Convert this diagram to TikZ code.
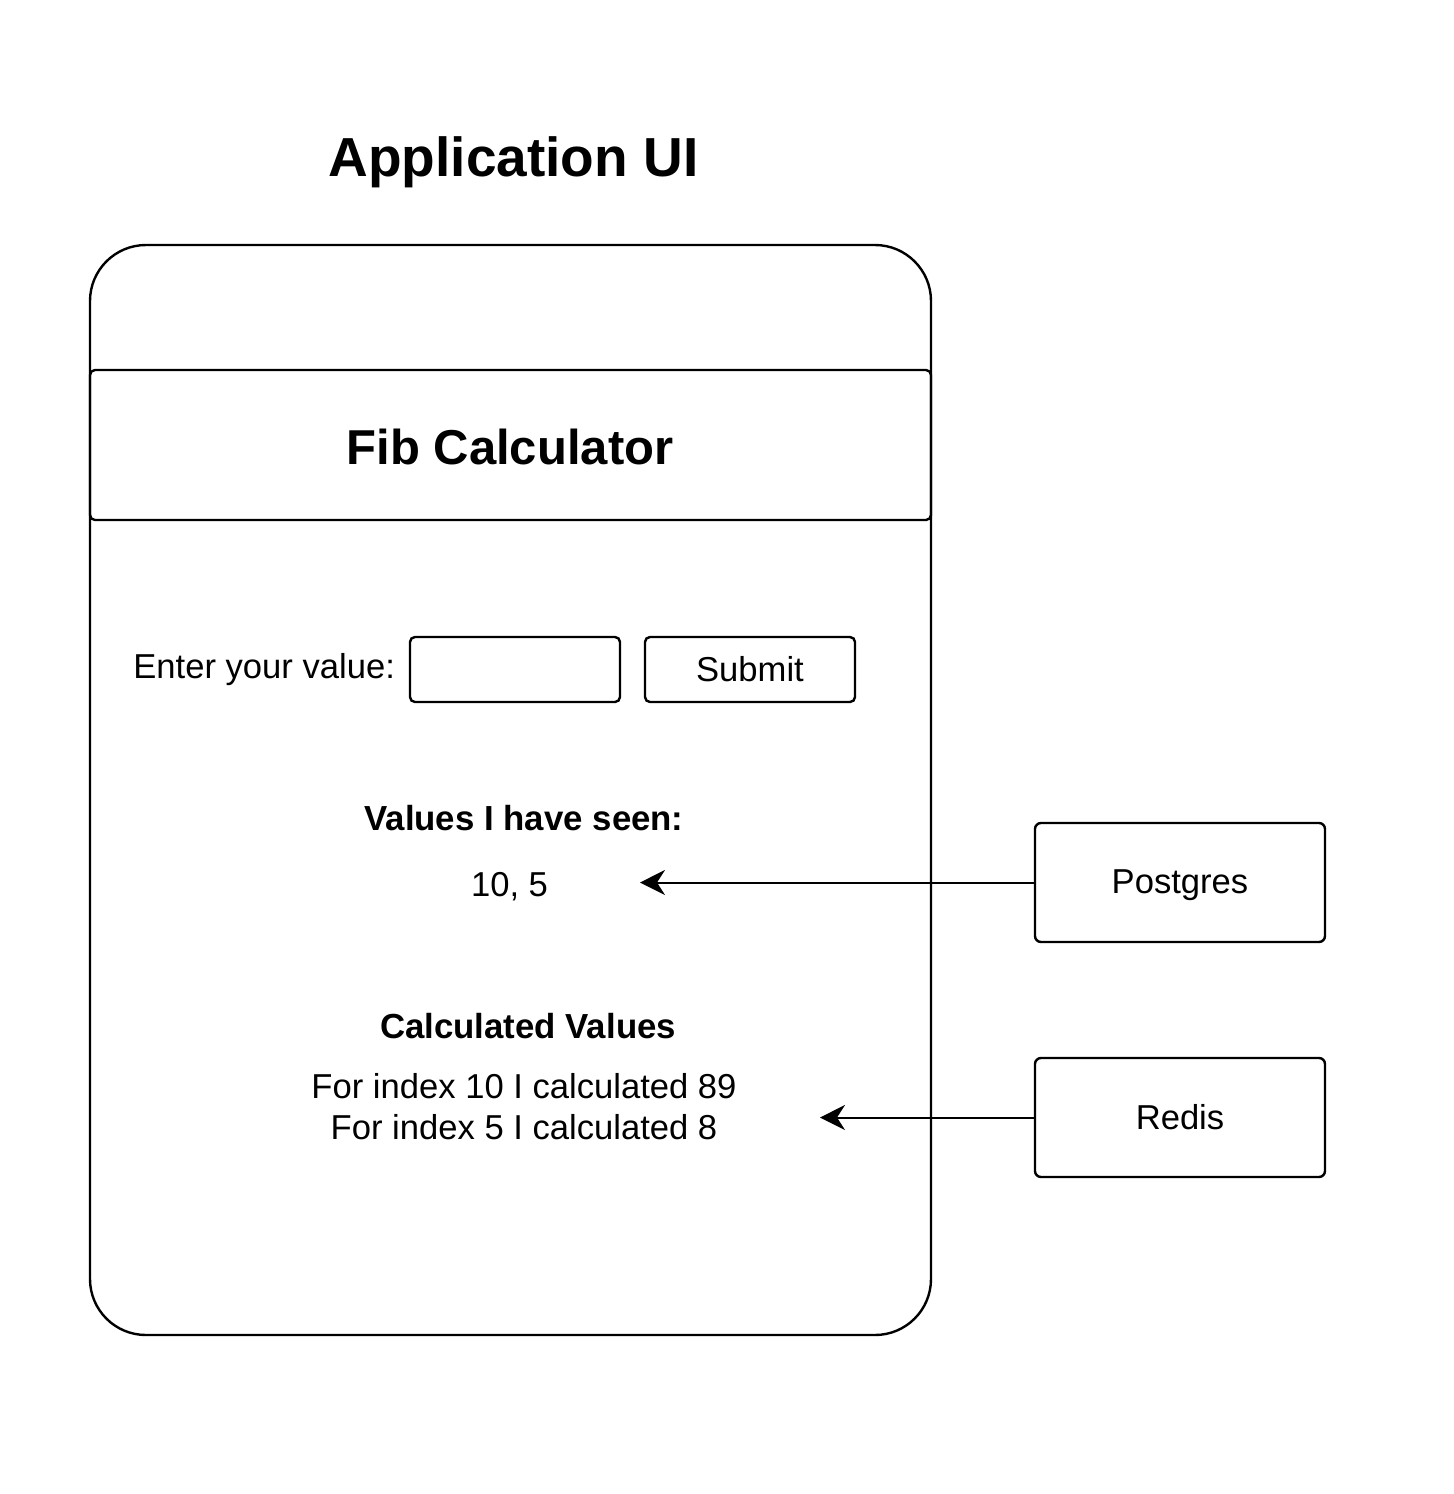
\documentclass[tikz,border=0pt]{standalone}
\usepackage{fontspec}
\setmainfont{Liberation Sans}
\usetikzlibrary{arrows.meta}
\begin{document}
\begin{tikzpicture}[x=0.5pt,y=-0.5pt,
  box/.style={draw, line width=1.2pt, rounded corners=2.5pt, inner sep=0pt},
  lbl/.style={anchor=base, inner sep=0pt, font=\fontsize{17.3pt}{20.5pt}\selectfont},
  blbl/.style={anchor=base, inner sep=0pt, font=\bfseries\fontsize{17.4pt}{20.5pt}\selectfont},
  conn/.style={line width=1pt, -{Stealth[length=12.5pt,width=12.5pt,inset=4pt]}}]
\useasboundingbox (0,0) rectangle (1454,1494);
\node[anchor=base, inner sep=0pt, font=\bfseries\fontsize{27.5pt}{33pt}\selectfont] (title) at (513.5,176) {Application UI};
\node[draw, line width=1.2pt, rounded corners=28pt, minimum width=420.5pt, minimum height=545pt, inner sep=0pt] (outer) at (510.5,790) {};
\node[box, minimum width=420.5pt, minimum height=75pt] (header) at (510.5,445) {};
\node[anchor=base, inner sep=0pt, font=\bfseries\fontsize{24.5pt}{29pt}\selectfont] (fib) at (510,464) {Fib Calculator};
\node[lbl, anchor=base west] (enter) at (133,678) {Enter your value:};
\node[box, minimum width=105pt, minimum height=32.5pt] (input) at (515,669.5) {};
\node[box, minimum width=105pt, minimum height=32.5pt] (submit) at (750,669.5) {};
\node[lbl] (submittxt) at (750,681) {Submit};
\node[blbl] (seen) at (524,830) {Values I have seen:};
\node[lbl] (vals) at (509.5,896) {10, 5};
\node[blbl] (calc) at (528,1038) {Calculated Values};
\node[lbl] (calc1) at (524,1098) {For index 10 I calculated 89};
\node[lbl] (calc2) at (524,1139) {For index 5 I calculated 8};
\node[box, rounded corners=3pt, minimum width=145pt, minimum height=59.5pt] (pg) at (1180,882.5) {};
\node[lbl] (pgtxt) at (1180,893) {Postgres};
\node[box, rounded corners=3pt, minimum width=145pt, minimum height=59.5pt] (rd) at (1180,1117.5) {};
\node[lbl] (rdtxt) at (1180,1129) {Redis};
\coordinate (pgtip) at (640,881);
\coordinate (rdtip) at (820,1117);
\draw[conn] (pg.west) -- (pg.west -| pgtip);
\draw[conn] (rd.west) -- (rd.west -| rdtip);
\end{tikzpicture}
\end{document}
